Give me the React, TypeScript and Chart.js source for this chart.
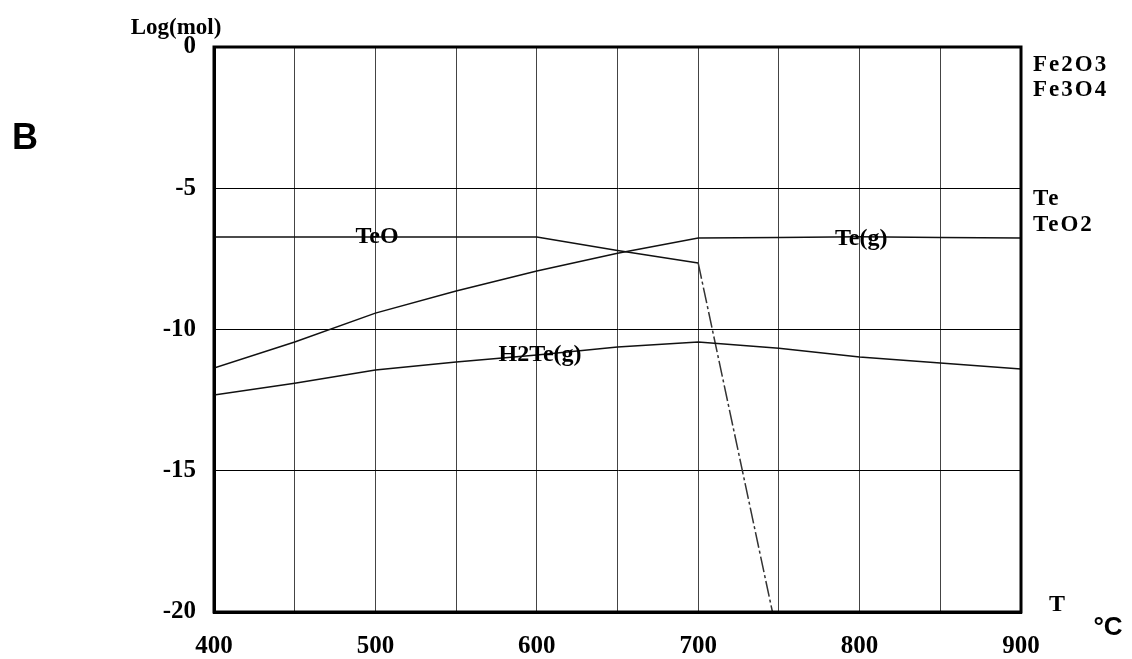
import React, { useEffect, useRef } from 'react';
import { Chart, registerables } from 'chart.js';

Chart.register(...registerables);

// Temperature (°C) and log(mol) values
const temps = [400, 450, 500, 550, 600, 650, 700, 750, 800, 850, 900];
const teGas = [-11.36, -10.44, -9.42, -8.64, -7.93, -7.3, -6.76, -6.74, -6.72, -6.74, -6.76];
const h2teGas = [-12.32, -11.9, -11.43, -11.15, -10.9, -10.62, -10.44, -10.66, -10.97, -11.19, -11.4];
const teoTemps = [400, 500, 600, 650, 700, 746];
const teoValues = [-6.73, -6.73, -6.73, -7.2, -7.65, -20];

const xTickValues = [400, 500, 600, 700, 800, 900];
const yTickValues = [0, -5, -10, -15, -20];

const curveLabelText = ['TeO', 'H2Te(g)', 'Te(g)'];
const curveLabelX = [501, 602, 801];
const curveLabelY = [-6.73, -10.9, -6.8];

const sideLabelText = ['Fe2O3', 'Fe3O4', 'Te', 'TeO2'];
const sideLabelY = [-0.64, -1.52, -5.4, -6.3];

const SERIF = '"Liberation Serif", "Times New Roman", serif';
const SANS = '"Liberation Sans", Arial, sans-serif';

const textPlugin = {
  id: 'annotations',
  afterDraw(chart: any) {
    const { ctx, chartArea, scales } = chart;
    const xs = scales.x;
    const ys = scales.y;
    ctx.save();
    // frame
    ctx.strokeStyle = '#000';
    ctx.lineWidth = 3;
    ctx.strokeRect(chartArea.left, chartArea.top, chartArea.right - chartArea.left, chartArea.bottom - chartArea.top);

    ctx.fillStyle = '#000';
    ctx.textBaseline = 'middle';
    // curve labels
    ctx.font = `bold 24px ${SERIF}`;
    ctx.textAlign = 'center';
    curveLabelText.forEach((t, i) => {
      ctx.fillText(t, xs.getPixelForValue(curveLabelX[i]), ys.getPixelForValue(curveLabelY[i]));
    });
    // side labels
    ctx.textAlign = 'left';
    ctx.font = `bold 23px ${SERIF}`;
    (ctx as any).letterSpacing = '2px';
    sideLabelText.forEach((t, i) => {
      ctx.fillText(t, chartArea.right + 12, ys.getPixelForValue(sideLabelY[i]));
    });
    (ctx as any).letterSpacing = '0px';
    // axis titles
    ctx.font = `bold 23px ${SERIF}`;
    ctx.textAlign = 'center';
    ctx.fillText('Log(mol)', 176, 28);
    ctx.font = `bold 24px ${SERIF}`;
    ctx.fillText('T', 1057, 605);
    ctx.font = `bold 26px ${SANS}`;
    ctx.fillText('°C', 1108, 628);
    ctx.font = `bold 36px ${SANS}`;
    ctx.fillText('B', 25, 139);
    ctx.restore();
  },
};

export default function App() {
  const ref = useRef<HTMLCanvasElement>(null);
  useEffect(() => {
    if (!ref.current) return;
    const lineStyle = {
      borderColor: '#111',
      borderWidth: 1.5,
      pointRadius: 0,
      tension: 0,
      fill: false,
    };
    const lastTeo = teoTemps.length - 2;
    const chart = new Chart(ref.current, {
      type: 'line',
      data: {
        datasets: [
          { label: 'Te(g)', data: temps.map((t, i) => ({ x: t, y: teGas[i] })), ...lineStyle },
          { label: 'H2Te(g)', data: temps.map((t, i) => ({ x: t, y: h2teGas[i] })), ...lineStyle },
          {
            label: 'TeO',
            data: teoTemps.map((t, i) => ({ x: t, y: teoValues[i] })),
            ...lineStyle,
            segment: {
              borderDash: (c: any) => (c.p0DataIndex === lastTeo ? [16, 3, 3, 3] : undefined),
              borderColor: (c: any) => (c.p0DataIndex === lastTeo ? '#333' : undefined),
            },
          },
        ],
      },
      options: {
        animation: false,
        responsive: true,
        maintainAspectRatio: false,
        layout: { padding: { top: 47, right: 111, left: 0, bottom: 0 } },
        plugins: { legend: { display: false }, tooltip: { enabled: false } },
        scales: {
          x: {
            type: 'linear',
            min: 400,
            max: 900,
            afterFit: (s: any) => { s.height = 47; },
            afterBuildTicks: (s: any) => {
              const arr = [];
              for (let v = 400; v <= 900; v += 50) arr.push({ value: v });
              s.ticks = arr;
            },
            ticks: {
              padding: 20,
              color: '#000',
              font: { family: SERIF, size: 25, weight: 'bold' },
              maxRotation: 0,
              autoSkip: false,
              callback: (v: any) => (xTickValues.includes(Number(v)) ? String(v) : ''),
            },
            grid: { color: '#444', lineWidth: 1, drawTicks: false },
            border: { display: true, color: '#000', width: 3 },
          },
          y: {
            type: 'linear',
            min: -20,
            max: 0,
            afterFit: (s: any) => { s.width = 214; },
            afterBuildTicks: (s: any) => {
              s.ticks = yTickValues.map((v) => ({ value: v }));
            },
            ticks: {
              padding: 18,
              color: '#000',
              font: { family: SERIF, size: 25, weight: 'bold' },
              callback: (v: any) => String(v),
            },
            grid: { color: '#000', lineWidth: 1, drawTicks: false },
            border: { display: true, color: '#000', width: 3 },
          },
        },
      } as any,
      plugins: [textPlugin],
    });
    return () => chart.destroy();
  }, []);
  return (
    <div style={{ position: 'fixed', left: 0, top: 0, width: 1132, height: 659, background: '#fff' }}>
      <canvas ref={ref} />
    </div>
  );
}
